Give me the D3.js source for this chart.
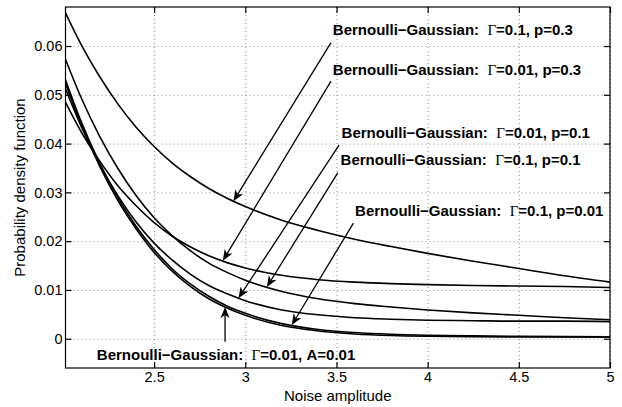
<!DOCTYPE html>
<html>
<head>
<meta charset="utf-8">
<script src="https://d3js.org/d3.v7.min.js"></script>
<style>
body { margin: 0; background: #fff; }
svg text { font-family: "Liberation Sans", Arial, Helvetica, sans-serif; fill: #000; }
.grid line { stroke: #8c8c8c; stroke-dasharray: 1,3; }
.grid path { display: none; }
.note { font-weight: bold; font-size: 15px; white-space: pre; }
.gamma { font-family: "Liberation Serif", "Times New Roman", serif; font-weight: normal; }
.ticklabel { font-size: 14.5px; }
</style>
</head>
<body>
<svg id="chart" width="622" height="407"></svg>
<script>
/** Noise amplitude samples (x axis) */
var noiseAmp = [2.0, 2.1, 2.2, 2.3, 2.4, 2.5, 2.6, 2.7, 2.8, 2.9, 3.0, 3.2, 3.4, 3.6, 3.8, 4.0, 4.25, 4.5, 4.75, 5.0];

/** Probability density for each Bernoulli-Gaussian setting */
var pdfG01p03 = [0.0679, 0.0603, 0.0538, 0.0482, 0.0434, 0.0394, 0.0360, 0.0332, 0.0308, 0.0288, 0.0271, 0.0243, 0.0222, 0.0204, 0.0189, 0.0175, 0.0159, 0.0144, 0.0129, 0.0116];
var pdfG001p03 = [0.0495, 0.0424, 0.0365, 0.0314, 0.0273, 0.0238, 0.0210, 0.0188, 0.0170, 0.0156, 0.0145, 0.0130, 0.0121, 0.0116, 0.0113, 0.0111, 0.0109, 0.0108, 0.0107, 0.0105];
var pdfG001p01 = [0.0525, 0.0435, 0.0358, 0.0294, 0.0240, 0.0196, 0.0161, 0.0132, 0.0109, 0.0092, 0.0078, 0.0059, 0.0049, 0.0043, 0.0040, 0.0038, 0.0037, 0.0036, 0.0036, 0.0035];
var pdfG01p01 = [0.0586, 0.0494, 0.0416, 0.0350, 0.0294, 0.0248, 0.0211, 0.0180, 0.0155, 0.0136, 0.0120, 0.0097, 0.0082, 0.0072, 0.0065, 0.0059, 0.0053, 0.0048, 0.0043, 0.0039];
var pdfG01p001 = [0.0545, 0.0445, 0.0361, 0.0290, 0.0231, 0.0183, 0.0143, 0.0112, 0.0087, 0.0067, 0.0052, 0.0031, 0.0019, 0.00127, 0.00091, 0.00071, 0.00058, 0.00050, 0.00044, 0.00039];
var pdfG001p001 = [0.0538, 0.0439, 0.0355, 0.0284, 0.0226, 0.0177, 0.0138, 0.0107, 0.0082, 0.0063, 0.0048, 0.0027, 0.0016, 0.00098, 0.00066, 0.00050, 0.00041, 0.00038, 0.00036, 0.00035];

var allSeries = [pdfG01p03, pdfG001p03, pdfG001p01, pdfG01p01, pdfG01p001, pdfG001p001];

/** Tick values and labels */
var xTicks = [2.5, 3, 3.5, 4, 4.5, 5];
var xTickLabels = ["2.5", "3", "3.5", "4", "4.5", "5"];
var yTicks = [0, 0.01, 0.02, 0.03, 0.04, 0.05, 0.06];
var yTickLabels = ["0", "0.01", "0.02", "0.03", "0.04", "0.05", "0.06"];

/** Annotation texts (Gamma value + second parameter) and where they sit, in data units */
var noteGamma = ["0.1", "0.01", "0.01", "0.1", "0.1", "0.01"];
var noteParam = ["p=0.3", "p=0.3", "p=0.1", "p=0.1", "p=0.01", "A=0.01"];
var noteX = [3.48, 3.48, 3.528, 3.5225, 3.602, 2.186];
var noteY = [0.0623, 0.0541, 0.0411, 0.0356, 0.0252, -0.0044];

/** Arrows: from (tail) to (head) in data units */
var arrowFromX = [3.470, 3.470, 3.514, 3.507, 3.593, 2.889];
var arrowFromY = [0.0607, 0.0528, 0.0397, 0.0340, 0.0237, -0.0006];
var arrowToX = [2.935, 2.877, 2.962, 3.118, 3.255, 2.889];
var arrowToY = [0.0282, 0.0160, 0.0083, 0.0106, 0.0028, 0.0065];

var xDomain = [2.014, 5],
    yDomain = [-0.006, 0.068];

/** plot box edges, in pixels */
var boxLeft = 65.5, boxRight = 610, boxTop = 7, boxBottom = 368;

var svg = d3.select("#chart");

var xScale = d3.scaleLinear().domain(xDomain).range([boxLeft, boxRight]);
var yScale = d3.scaleLinear().domain(yDomain).range([boxBottom, boxTop]);

// grid
svg.append("g")
    .attr("class", "grid")
    .attr("transform", "translate(0," + boxBottom + ")")
    .call(d3.axisBottom(xScale).tickValues(xTicks).tickSize(-(boxBottom - boxTop)).tickFormat(""));
svg.append("g")
    .attr("class", "grid")
    .attr("transform", "translate(" + boxLeft + ",0)")
    .call(d3.axisLeft(yScale).tickValues(yTicks).tickSize(-(boxRight - boxLeft)).tickFormat(""));

svg.append("clipPath").attr("id", "plotClip")
    .append("rect")
    .attr("x", boxLeft).attr("y", boxTop)
    .attr("width", boxRight - boxLeft).attr("height", boxBottom - boxTop);

// curves
var line = d3.line()
    .x(function (d) { return xScale(d[0]); })
    .y(function (d) { return yScale(d[1]); })
    .curve(d3.curveMonotoneX);

svg.append("g")
    .attr("clip-path", "url(#plotClip)")
    .selectAll("path")
    .data(allSeries)
    .enter()
    .append("path")
    .attr("d", function (s) { return line(noiseAmp.map(function (x, i) { return [x, s[i]]; })); })
    .attr("fill", "none")
    .attr("stroke", "#000")
    .attr("stroke-width", 1.6);

// arrows
var arrows = svg.append("g");
noteGamma.forEach(function (g, i) {
    var x1 = xScale(arrowFromX[i]), y1 = yScale(arrowFromY[i]),
        x2 = xScale(arrowToX[i]), y2 = yScale(arrowToY[i]);
    var ang = Math.atan2(y2 - y1, x2 - x1);
    var len = 11, half = 4.5, notch = 8;
    var ux = Math.cos(ang), uy = Math.sin(ang);
    var bx = x2 - ux * len, by = y2 - uy * len;
    var nx = x2 - ux * notch, ny = y2 - uy * notch;
    arrows.append("line")
        .attr("x1", x1).attr("y1", y1)
        .attr("x2", nx).attr("y2", ny)
        .attr("stroke", "#000").attr("stroke-width", 1.3);
    arrows.append("path")
        .attr("d", "M" + x2 + "," + y2 +
            "L" + (bx - uy * half) + "," + (by + ux * half) +
            "L" + nx + "," + ny +
            "L" + (bx + uy * half) + "," + (by - ux * half) + "Z")
        .attr("fill", "#000");
});

// annotation texts
var notes = svg.append("g");
noteGamma.forEach(function (g, i) {
    var t = notes.append("text")
        .attr("class", "note")
        .attr("x", xScale(noteX[i]))
        .attr("y", yScale(noteY[i]));
    t.append("tspan").text("Bernoulli\u2212Gaussian:  ");
    t.append("tspan").attr("class", "gamma").text("\u0393");
    t.append("tspan").text("=" + g + ", " + noteParam[i]);
});

// axes box
svg.append("rect")
    .attr("x", boxLeft).attr("y", boxTop)
    .attr("width", boxRight - boxLeft).attr("height", boxBottom - boxTop)
    .attr("fill", "none").attr("stroke", "#000").attr("stroke-width", 1.2);

var xAxis = svg.append("g")
    .attr("transform", "translate(0," + boxBottom + ")")
    .call(d3.axisBottom(xScale).tickValues(xTicks).tickSizeInner(-6).tickSizeOuter(0).tickPadding(4)
        .tickFormat(function (d, i) { return xTickLabels[i]; }));
svg.append("g")
    .attr("transform", "translate(0," + boxTop + ")")
    .call(d3.axisTop(xScale).tickValues(xTicks).tickSizeInner(-6).tickSizeOuter(0).tickFormat(""));
var yAxis = svg.append("g")
    .attr("transform", "translate(" + boxLeft + ",0)")
    .call(d3.axisLeft(yScale).tickValues(yTicks).tickSizeInner(-6).tickSizeOuter(0).tickPadding(3)
        .tickFormat(function (d, i) { return yTickLabels[i]; }));
svg.append("g")
    .attr("transform", "translate(" + boxRight + ",0)")
    .call(d3.axisRight(yScale).tickValues(yTicks).tickSizeInner(-6).tickSizeOuter(0).tickFormat(""));

svg.selectAll(".domain").filter(function () { return !this.parentNode.classList.contains("grid"); }).remove();
svg.selectAll(".tick line").filter(function () { return !this.parentNode.parentNode.classList.contains("grid"); })
    .attr("stroke", "#000").attr("stroke-width", 1.2);
xAxis.attr("font-family", null).attr("font-size", null);
yAxis.attr("font-family", null).attr("font-size", null);
xAxis.selectAll("text").attr("class", "ticklabel");
yAxis.selectAll("text").attr("class", "ticklabel");

// axis titles
svg.append("text")
    .attr("x", (boxLeft + boxRight) / 2)
    .attr("y", 401)
    .attr("text-anchor", "middle")
    .style("font-size", "15px")
    .text("Noise amplitude");
svg.append("text")
    .attr("transform", "translate(25," + (boxTop + boxBottom) / 2 + ") rotate(-90)")
    .attr("text-anchor", "middle")
    .style("font-size", "15px")
    .text("Probability density function");
</script>
</body>
</html>
